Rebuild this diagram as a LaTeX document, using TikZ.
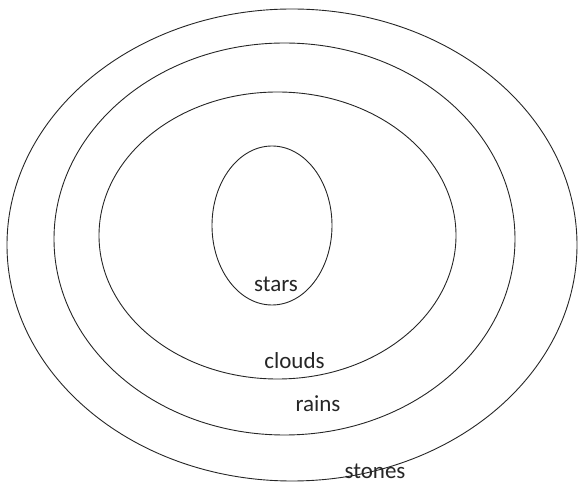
\documentclass[tikz,border=0pt]{standalone}
\usepackage{fontspec}
\setmainfont{Carlito}
\begin{document}
\begin{tikzpicture}[x=1pt,y=-1pt,
  ring/.style={draw=black!85, line width=0.9pt},
  lbl/.style={font=\fontsize{23}{26}\selectfont, text=black!85, inner sep=0pt}]
\useasboundingbox (0,0) rectangle (579,486);
\draw[ring] (292,245) ellipse [x radius=285, y radius=236];
\draw[ring] (284.5,239) ellipse [x radius=230.5, y radius=196];
\draw[ring] (277.5,235.5) ellipse [x radius=178.5, y radius=143.5];
\draw[ring] (272,225.5) ellipse [x radius=60, y radius=79.5];
\node[lbl] (stars) at (276,284) {stars};
\node[lbl] (clouds) at (294.5,361) {clouds};
\node[lbl] (rains) at (318,404) {rains};
\node[lbl] (stones) at (375,471) {stones};
\end{tikzpicture}
\end{document}
